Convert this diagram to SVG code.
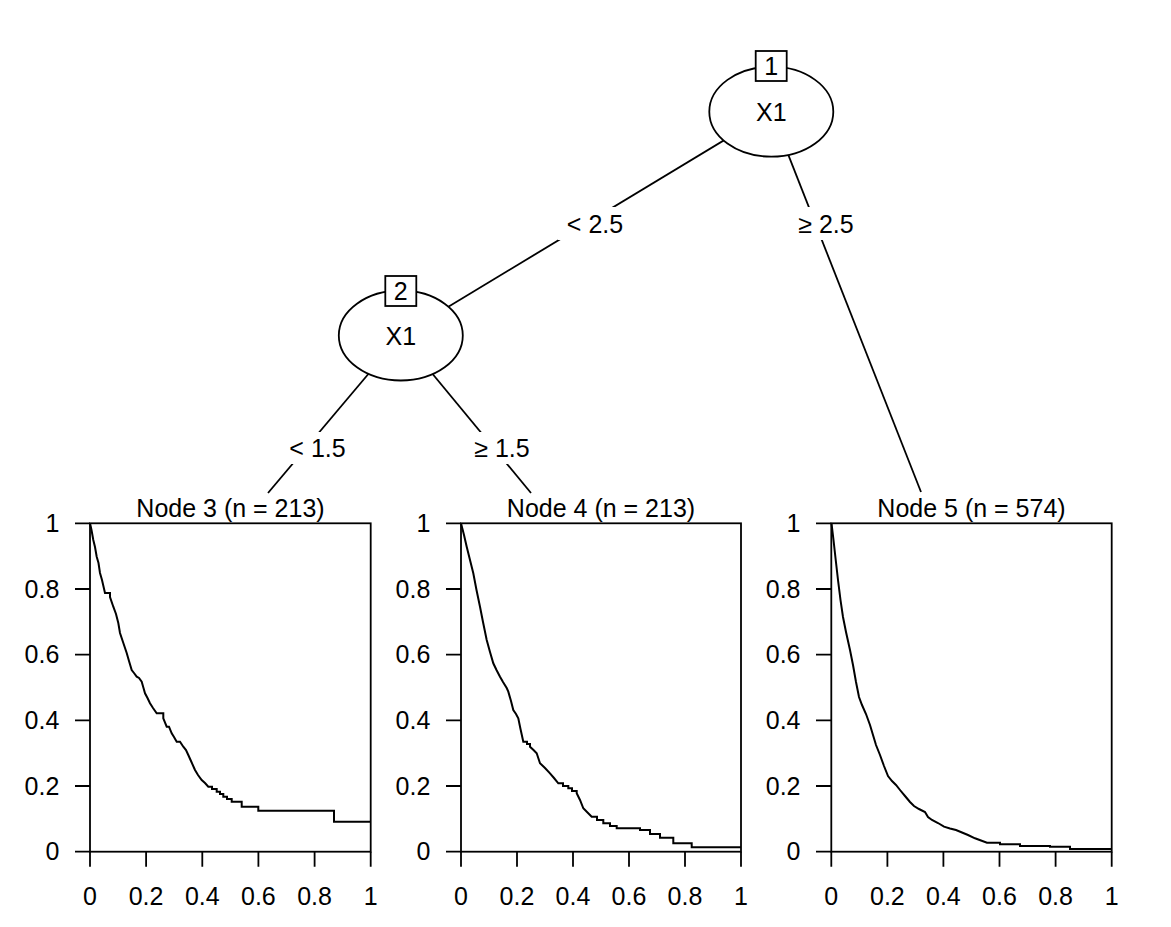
<svg xmlns="http://www.w3.org/2000/svg" width="1171" height="927" viewBox="0 0 1171 927">
<style>
text{font-family:"Liberation Sans",Arial,Helvetica,sans-serif;font-size:25px;fill:#000}
.mid{text-anchor:middle}
.end{text-anchor:end}
.ln{stroke:#000;stroke-width:1.8;fill:none}
.node{fill:#fff;stroke:#000;stroke-width:1.8}
.lbg{fill:#fff;stroke:none}
.curve{stroke:#000;stroke-width:2;fill:none;stroke-linejoin:miter}
</style>
<rect width="1171" height="927" fill="#fff"/>
<g id="connectors">
<line class="ln" x1="771.3" y1="111.7" x2="400.8" y2="335.5"/>
<line class="ln" x1="771.3" y1="111.7" x2="921" y2="492"/>
<line class="ln" x1="400.8" y1="335.5" x2="268" y2="493"/>
<line class="ln" x1="400.8" y1="335.5" x2="531" y2="493"/>
<rect class="lbg" x="558" y="207" width="70" height="33"/>
<text class="mid" x="595" y="233">&lt; 2.5</text>
<rect class="lbg" x="796" y="207" width="61" height="33"/>
<text class="mid" x="826" y="233">≥ 2.5</text>
<rect class="lbg" x="287" y="432" width="61" height="32"/>
<text class="mid" x="317.5" y="457">&lt; 1.5</text>
<rect class="lbg" x="472" y="432" width="61" height="32"/>
<text class="mid" x="502" y="457">≥ 1.5</text>
</g>
<g id="node1">
<ellipse class="node" cx="771.3" cy="111.7" rx="62" ry="45"/>
<text class="mid" x="771.3" y="121">X1</text>
<rect class="node" x="755.7" y="51" width="31" height="30"/>
<text class="mid" x="771.2" y="74.5">1</text>
</g>
<g id="node2">
<ellipse class="node" cx="400.8" cy="335.5" rx="62" ry="45"/>
<text class="mid" x="400.8" y="344.5">X1</text>
<rect class="node" x="385.3" y="276" width="31" height="30"/>
<text class="mid" x="400.8" y="299.5">2</text>
</g>
<g id="node3">
<text class="mid" x="230.5" y="516.5">Node 3 (n = 213)</text>
<rect class="ln" x="90" y="523.3" width="280.7" height="328.4"/>
<path class="ln" d="M75,523.3H90M75,589H90M75,654.7H90M75,720.4H90M75,786H90M75,851.7H90M90,851.7V866.7M146.1,851.7V866.7M202.3,851.7V866.7M258.4,851.7V866.7M314.6,851.7V866.7M370.7,851.7V866.7"/>
<text class="end" x="59.3" y="532">1</text>
<text class="end" x="59.3" y="597.7">0.8</text>
<text class="end" x="59.3" y="663.4">0.6</text>
<text class="end" x="59.3" y="729.1">0.4</text>
<text class="end" x="59.3" y="794.7">0.2</text>
<text class="end" x="59.3" y="860.4">0</text>
<text class="mid" x="90" y="905">0</text>
<text class="mid" x="146.1" y="905">0.2</text>
<text class="mid" x="202.3" y="905">0.4</text>
<text class="mid" x="258.4" y="905">0.6</text>
<text class="mid" x="314.6" y="905">0.8</text>
<text class="mid" x="370.7" y="905">1</text>
<path class="curve" d="M90,523.3 L91.5,530 L93.3,540 L95,547 L96.7,556.7 L98.5,563 L100,573 L102,580 L105,593 H110 V597 L113.3,606.7 L116,614 L118.3,623 L120,633 L123,642 L126.7,653 L129,661 L131.7,670 L134,673 L136.7,676.7 L139,678 L141.7,681.7 L143.5,688 L145,693.3 L147.5,698 L150,703.3 L153,708 L156.7,713.3 H163.3 V718.3 L166.7,726.7 H169 L171.7,733.3 L174,737 L176.7,741.7 H180 L183.3,746.7 L186,750 L188.3,755 L191,761 L195,770 L198,775 L201.7,780 L205,783 L208.3,786.7 H212 V789 H216.7 V791.7 H220 V794 H223.3 V796.7 H227 V799 H231.7 V801.7 H241.7 V806.7 H258.3 V810.7 H334 V821.7 H370.7"/>
</g>
<g id="node4">
<text class="mid" x="601" y="516.5">Node 4 (n = 213)</text>
<rect class="ln" x="461" y="523.3" width="280" height="328.4"/>
<path class="ln" d="M446,523.3H461M446,589H461M446,654.7H461M446,720.4H461M446,786H461M446,851.7H461M461,851.7V866.7M517,851.7V866.7M573,851.7V866.7M629,851.7V866.7M685,851.7V866.7M741,851.7V866.7"/>
<text class="end" x="430.3" y="532">1</text>
<text class="end" x="430.3" y="597.7">0.8</text>
<text class="end" x="430.3" y="663.4">0.6</text>
<text class="end" x="430.3" y="729.1">0.4</text>
<text class="end" x="430.3" y="794.7">0.2</text>
<text class="end" x="430.3" y="860.4">0</text>
<text class="mid" x="461" y="905">0</text>
<text class="mid" x="517" y="905">0.2</text>
<text class="mid" x="573" y="905">0.4</text>
<text class="mid" x="629" y="905">0.6</text>
<text class="mid" x="685" y="905">0.8</text>
<text class="mid" x="741" y="905">1</text>
<path class="curve" d="M461,523.3 L464,535 L466.7,546.7 L470,560 L473.3,573.3 L476.5,590 L480,606.7 L483,622 L486.7,640 L490,652 L493.3,663.3 L496.5,670 L500,676.7 L503,682 L506.7,688 L508.3,691.7 L511,701 L513.3,710 L516,714 L518.3,718.3 L520.5,729 L523.3,741.7 H527 V744 H530 V746.7 L533.5,750 L536.7,753.3 L540,763.3 L545,768 L550,773.3 L554,778 L558.3,783.3 H563 V786 H568.3 V788.3 H572 V791 H576.7 V793.3 L580,800 L583.3,808.3 L587,812 L591.7,816.7 H597 V820 H603.3 V823.3 H610 V826 H616.7 V828.3 H640 V830 H650 V834 H660 V837.7 H673.3 V843.3 H691.7 V847.3 H741"/>
</g>
<g id="node5">
<text class="mid" x="971.5" y="516.5">Node 5 (n = 574)</text>
<rect class="ln" x="831.3" y="523.3" width="280.4" height="328.4"/>
<path class="ln" d="M816,523.3H831.3M816,589H831.3M816,654.7H831.3M816,720.4H831.3M816,786H831.3M816,851.7H831.3M831.3,851.7V866.7M887.4,851.7V866.7M943.4,851.7V866.7M999.5,851.7V866.7M1055.6,851.7V866.7M1111.7,851.7V866.7"/>
<text class="end" x="800.5" y="532">1</text>
<text class="end" x="800.5" y="597.7">0.8</text>
<text class="end" x="800.5" y="663.4">0.6</text>
<text class="end" x="800.5" y="729.1">0.4</text>
<text class="end" x="800.5" y="794.7">0.2</text>
<text class="end" x="800.5" y="860.4">0</text>
<text class="mid" x="831.3" y="905">0</text>
<text class="mid" x="887.4" y="905">0.2</text>
<text class="mid" x="943.4" y="905">0.4</text>
<text class="mid" x="999.5" y="905">0.6</text>
<text class="mid" x="1055.6" y="905">0.8</text>
<text class="mid" x="1111.7" y="905">1</text>
<path class="curve" d="M831.5,523.3 L833.5,540 L835.5,558 L838,580 L840.5,600 L843,617 L846,632 L850,650 L853,665 L856,682 L859,697 L862,705 L866,714 L870,725 L873,735 L876,745 L880,755 L884,766 L888,776 L892,781 L896,785 L900,790 L905,796 L910,802 L914,806 L919,809 L925,812 L928,817 L932,820 L938,823 L944,826.7 L950,828.5 L956,830 L962,832.5 L968,835 L975,838.3 L981,840.5 L987,842.7 H1000 V844.3 H1020 V846 H1050 V846.7 H1070 V849 H1111.7"/>
</g>
</svg>
